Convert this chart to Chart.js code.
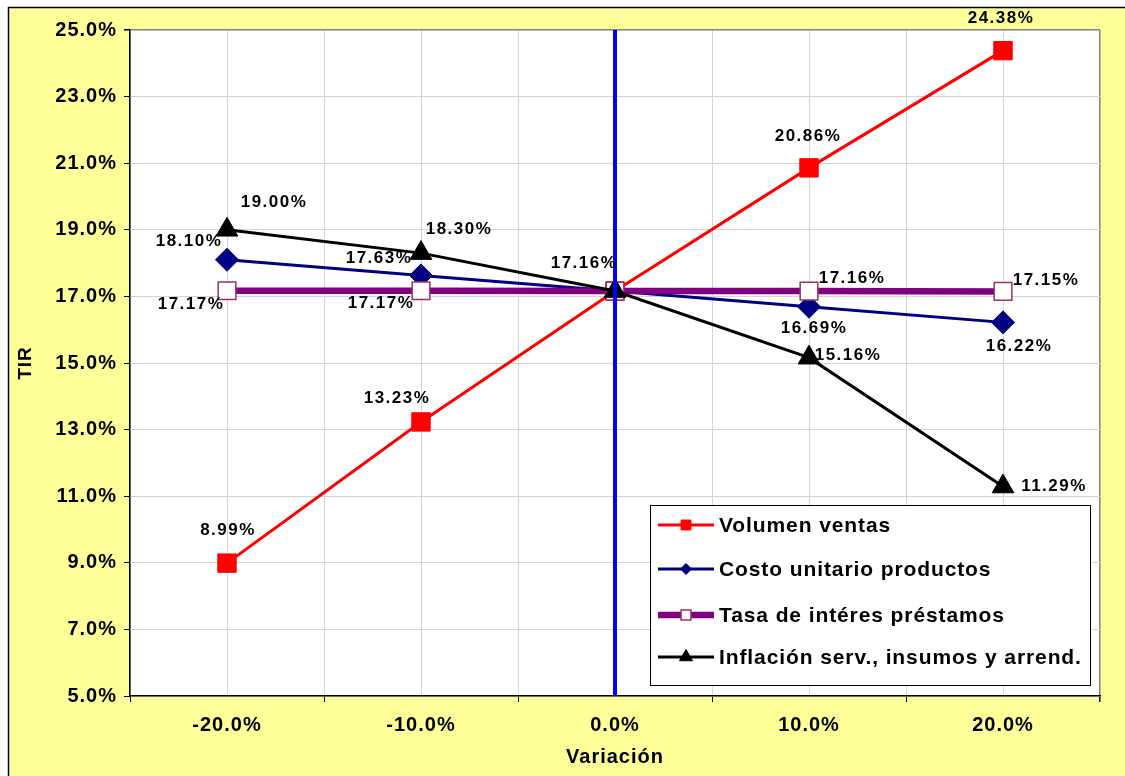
<!DOCTYPE html>
<html>
<head>
<meta charset="utf-8">
<title>TIR - Análisis de sensibilidad</title>
<script src="https://cdn.jsdelivr.net/npm/chart.js@4.4.1/dist/chart.umd.min.js"></script>
<style>
	html, body { margin: 0; padding: 0; background: #fff; }
	#wrap { width: 1125px; height: 776px; }
</style>
</head>
<body>
<div id="wrap"><canvas id="tirChart" width="1125" height="776"></canvas></div>
<script>
// variación (%) y TIR (%) de cada escenario
var variacion = [-20, -10, 0, 10, 20];
var volumenVentas = [8.99, 13.23, 17.16, 20.86, 24.38];
var costoUnitario = [18.10, 17.63, 17.16, 16.69, 16.22];
var tasaInteres = [17.17, 17.17, 17.16, 17.16, 17.15];
var inflacion = [19.00, 18.30, 17.16, 15.16, 11.29];
var seriesNames = ["Volumen ventas", "Costo unitario productos", "Tasa de intéres préstamos", "Inflación serv., insumos y arrend."];

// ejes
var yMin = 5, yMax = 25, yStep = 2;
var xMin = -25, xMax = 25, xStep = 5;

var FONT = "'Liberation Sans', Arial, sans-serif";

function toPoints(values) {
	var pts = [];
	for (var i in values) {
		pts.push({ x: variacion[i], y: values[i] });
	}
	return pts;
}

// desplazamiento de cada etiqueta respecto a su punto (px); null = sin etiqueta
var labelOffsets = [
	[[0, -33], [-25, -24], [-32, -28], [-2, -32], [-3, -32]],
	[[-39, -18], [-43, -17], null, [4, 22], [15, 24]],
	[[-37, 14], [-41, 13], null, [42, -13], [42, -11]],
	[[46, -27], [37, -24], null, [38, -2], [50, 0]]
];

var seriesStyle = [
	{ color: "#FF0000", width: 3, point: "rect", radius: 13, fill: "#FF0000", border: "#FF0000", bw: 1, legendR: 7 },
	{ color: "#000080", width: 3, point: "rectRot", radius: 11.5, fill: "#000080", border: "#000080", bw: 1, legendR: 5.5 },
	{ color: "#800080", width: 6.5, point: "rect", radius: 12.5, fill: "#FFFFFF", border: "#993366", bw: 1.5, legendR: 7 },
	{ color: "#000000", width: 3, point: "triangle", radius: 12.5, fill: "#000000", border: "#000000", bw: 1, legendR: 7.5 }
];

var allValues = [volumenVentas, costoUnitario, tasaInteres, inflacion];

var datasets = [];
for (var s = 0; s < allValues.length; s++) {
	var st = seriesStyle[s];
	datasets.push({
		label: seriesNames[s],
		data: toPoints(allValues[s]),
		borderColor: st.color,
		borderWidth: st.width,
		backgroundColor: st.fill,
		pointStyle: st.point,
		pointRadius: st.radius,
		pointBackgroundColor: st.fill,
		pointBorderColor: st.border,
		pointBorderWidth: st.bw,
		tension: 0,
		clip: false,
		order: 4 - s
	});
}

// línea vertical en variación 0
datasets.push({
	label: "base",
	data: [{ x: 0, y: yMin }, { x: 0, y: yMax }],
	borderColor: "#0000FF",
	borderWidth: 4,
	pointRadius: 0,
	clip: false,
	order: 0
});

var frameBg = {
	id: "frameBg",
	beforeDraw: function (chart) {
		var ctx = chart.ctx, w = chart.width, h = chart.height, a = chart.chartArea;
		ctx.save();
		ctx.fillStyle = "#FFFFFF";
		ctx.fillRect(0, 0, w, h);
		ctx.fillStyle = "#FFFF99";
		ctx.fillRect(8, 7, w, h);
		ctx.strokeStyle = "#000000";
		ctx.lineWidth = 1.5;
		ctx.strokeRect(8.5, 7.5, w + 20, h + 20);
		ctx.fillStyle = "#FFFFFF";
		ctx.fillRect(a.left, a.top, a.right - a.left, a.bottom - a.top);
		ctx.restore();
		// espaciado de letras para los textos de los ejes
		ctx.letterSpacing = "1px";
	}
};

var valueLabels = {
	id: "valueLabels",
	afterDatasetsDraw: function (chart) {
		var ctx = chart.ctx;
		ctx.save();
		ctx.font = "bold 17px " + FONT;
		ctx.letterSpacing = "1.5px";
		ctx.fillStyle = "#000";
		ctx.textAlign = "center";
		ctx.textBaseline = "middle";
		for (var s = 0; s < allValues.length; s++) {
			var meta = chart.getDatasetMeta(s);
			for (var i = 0; i < allValues[s].length; i++) {
				var off = labelOffsets[s][i];
				if (!off) continue;
				var p = meta.data[i];
				ctx.fillText(allValues[s][i].toFixed(2) + "%", p.x + off[0] + 1, p.y + off[1]);
			}
		}
		ctx.restore();
	}
};

var boxLegend = {
	id: "boxLegend",
	afterDraw: function (chart) {
		var ctx = chart.ctx;
		var bx = 650, by = 505, bw = 440, bh = 180;
		var rows = [525, 569, 615, 657];
		ctx.save();
		ctx.fillStyle = "#FFFFFF";
		ctx.fillRect(bx, by, bw, bh);
		ctx.strokeStyle = "#000000";
		ctx.lineWidth = 1;
		ctx.strokeRect(bx + 0.5, by + 0.5, bw, bh);
		for (var s = 0; s < seriesStyle.length; s++) {
			var st = seriesStyle[s], y = rows[s];
			ctx.strokeStyle = st.color;
			ctx.lineWidth = st.width;
			ctx.beginPath();
			ctx.moveTo(658, y);
			ctx.lineTo(714, y);
			ctx.stroke();
			ctx.fillStyle = st.fill;
			ctx.strokeStyle = st.border;
			ctx.lineWidth = st.bw;
			Chart.helpers.drawPoint(ctx, { pointStyle: st.point, radius: st.legendR, rotation: 0, borderWidth: st.bw }, 686, y);
			ctx.fillStyle = "#000";
			ctx.font = "bold 21px " + FONT;
			ctx.letterSpacing = "0.9px";
			ctx.textAlign = "left";
			ctx.textBaseline = "middle";
			ctx.fillText(seriesNames[s], 719, y + 1);
		}
		ctx.restore();
	}
};

var ctx = document.getElementById("tirChart").getContext("2d");
new Chart(ctx, {
	type: "line",
	data: { datasets: datasets },
	plugins: [frameBg, valueLabels, boxLegend],
	options: {
		responsive: false,
		animation: false,
		layout: { padding: { top: 30, right: 25, left: 0, bottom: 0 } },
		plugins: {
			legend: { display: false },
			tooltip: { enabled: false }
		},
		scales: {
			x: {
				type: "linear",
				min: xMin,
				max: xMax,
				afterFit: function (scale) { scale.height = 80; },
				afterBuildTicks: function (scale) {
					var t = [];
					for (var v = xMin; v <= xMax; v += xStep) t.push({ value: v });
					scale.ticks = t;
				},
				ticks: {
					autoSkip: false,
					maxRotation: 0,
					padding: 11,
					color: "#000",
					font: { family: FONT, size: 20, weight: "bold" },
					callback: function (v) { return v % 10 === 0 ? v.toFixed(1) + "%" : ""; }
				},
				grid: {
					color: function (c) { return c.tick && c.tick.value === xMax ? "#808080" : "#D4D4D4"; },
					lineWidth: function (c) { return c.tick && c.tick.value === xMax ? 1.5 : 1; },
					tickLength: 6,
					tickColor: function (c) { return c.tick && c.tick.value % 10 === 0 ? "rgba(0,0,0,0)" : "#000"; }
				},
				border: { color: "#000", width: 1.5 },
				title: {
					display: true,
					text: "Variación",
					color: "#000",
					font: { family: FONT, size: 20, weight: "bold" },
					padding: { top: 0, bottom: 7 }
				}
			},
			y: {
				min: yMin,
				max: yMax,
				afterFit: function (scale) { scale.width = 130; },
				ticks: {
					stepSize: yStep,
					padding: 7,
					color: "#000",
					font: { family: FONT, size: 20, weight: "bold" },
					callback: function (v) { return v.toFixed(1) + "%"; }
				},
				grid: {
					color: function (c) { return c.tick && c.tick.value === yMax ? "#808080" : "#D4D4D4"; },
					lineWidth: function (c) { return c.tick && c.tick.value === yMax ? 1.5 : 1; },
					tickLength: 6,
					tickColor: "#000"
				},
				border: { color: "#000", width: 1.5 },
				title: {
					display: true,
					text: "TIR",
					color: "#000",
					font: { family: FONT, size: 19, weight: "bold" },
					padding: { top: 14, bottom: 0 }
				}
			}
		}
	}
});
</script>
</body>
</html>
